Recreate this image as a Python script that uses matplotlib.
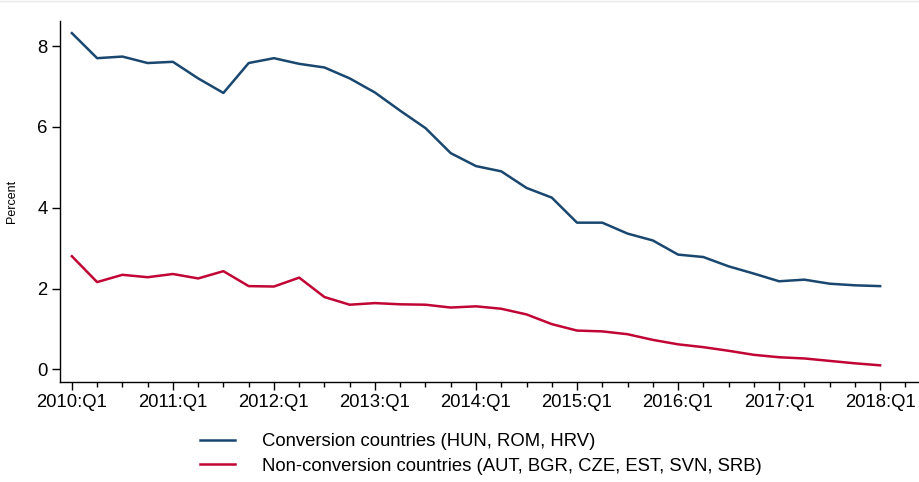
import matplotlib.pyplot as plt
from matplotlib.lines import Line2D
import numpy as np

plt.rcParams['font.family'] = ['Liberation Sans', 'DejaVu Sans']

# quarterly, 2010:Q1 .. 2018:Q1
quarters = [f"{y}:Q{q}" for y in range(2010, 2019) for q in range(1, 5)][:33]
conversion = [8.32, 7.70, 7.74, 7.58, 7.61, 7.20, 6.84, 7.58, 7.70, 7.56, 7.47,
              7.20, 6.85, 6.40, 5.97, 5.35, 5.03, 4.90, 4.49, 4.25, 3.63, 3.63,
              3.36, 3.19, 2.84, 2.78, 2.55, 2.37, 2.18, 2.22, 2.12, 2.08, 2.06]
non_conversion = [2.80, 2.16, 2.34, 2.28, 2.36, 2.25, 2.43, 2.06, 2.05, 2.27, 1.79,
                  1.60, 1.64, 1.61, 1.60, 1.53, 1.56, 1.50, 1.36, 1.12, 0.96, 0.94,
                  0.87, 0.73, 0.62, 0.55, 0.46, 0.36, 0.30, 0.27, 0.21, 0.15, 0.10]
labels = ["Conversion countries (HUN, ROM, HRV)",
          "Non-conversion countries (AUT, BGR, CZE, EST, SVN, SRB)"]

x = np.arange(len(quarters))

fig = plt.figure(figsize=(9.2, 4.82), dpi=100)
ax = fig.add_axes([60/920, 1 - 381.5/482, 858/920, 360.5/482])

ax.plot(x, conversion, color='#1a476f', lw=1.8, label=labels[0])
ax.plot(x, non_conversion, color='#c10534', lw=1.8, label=labels[1])

ax.set_xlim(-0.47, 33.5)
ax.set_ylim(-0.3, 8.62)
ax.set_yticks([0, 2, 4, 6, 8])
ax.set_xticks(x[::4])
ax.set_xticklabels(quarters[::4])
ax.set_xticks(np.arange(0, 34), minor=True)
ax.tick_params(axis='both', which='major', labelsize=13.3, length=6, width=1, pad=3)
ax.tick_params(axis='x', which='minor', length=3.5, width=1)
ax.set_ylabel('Percent', fontsize=9, labelpad=14)

for s in ['top', 'right']:
    ax.spines[s].set_visible(False)
for s in ['left', 'bottom']:
    ax.spines[s].set_linewidth(1)

fig.legend(loc='upper left', bbox_to_anchor=(200/920, 1 - 433/482), frameon=False,
           fontsize=13.35, handlelength=1.9, handletextpad=1.45, labelspacing=0.42,
           borderaxespad=0, borderpad=0)

fig.add_artist(Line2D([0, 1], [0.998, 0.998], color='#e8e8e8', lw=1))

fig.savefig('out.png', dpi=100, facecolor='white')
